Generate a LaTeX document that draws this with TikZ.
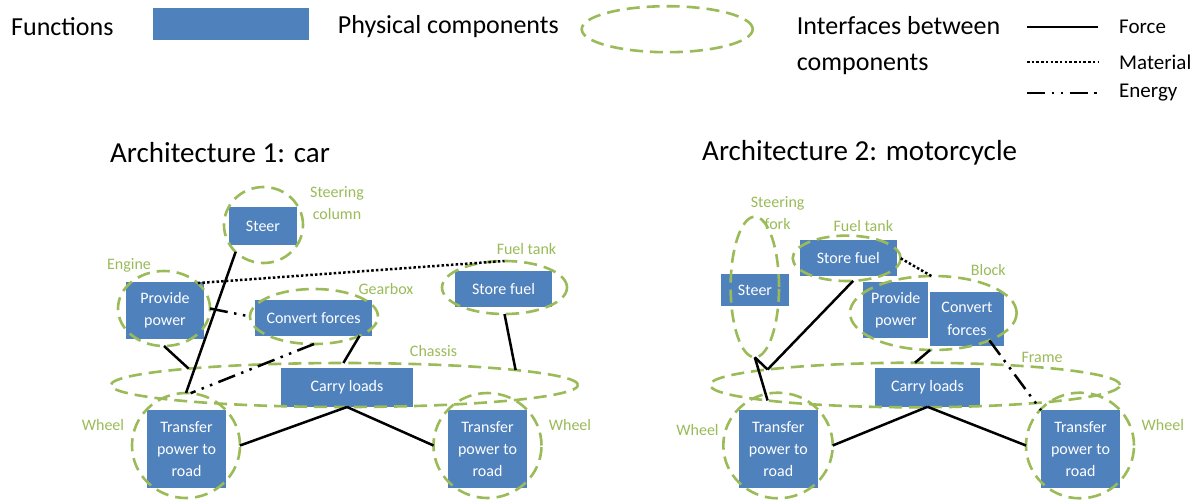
\documentclass[tikz,border=0pt]{standalone}
\usepackage{fontspec}
\setmainfont{Carlito}
\usetikzlibrary{shapes.geometric,calc}
\definecolor{fblue}{HTML}{4F81BD}
\definecolor{pgreen}{HTML}{9BBB59}
\newcommand{\mybf}{\fontsize{16}{22.3}\selectfont}
\newcommand{\mylf}{\fontsize{16}{22}\selectfont}
\newcommand{\mylegf}{\fontsize{26}{36}\selectfont}
\newcommand{\mylegs}{\fontsize{21}{25}\selectfont}
\newcommand{\mytitf}{\fontsize{29}{35}\selectfont}
\begin{document}
\begin{tikzpicture}[x=1pt,y=-1pt,
  func/.style={fill=fblue, draw=none, inner sep=0pt, outer sep=0pt, text=white, font=\mybf, align=center},
  comp/.style={ellipse, draw=pgreen, line width=2.6pt, dash pattern=on 13pt off 7pt, inner sep=0pt, outer sep=0pt},
  clabel/.style={text=pgreen, font=\mylf, align=center, inner sep=0pt},
  legtext/.style={anchor=west, inner sep=0pt, align=left},
  force/.style={line width=2.5pt},
  material/.style={line width=2.5pt, dash pattern=on 2.5pt off 2.2pt},
  energy/.style={line width=2.5pt, dash pattern=on 18pt off 6.5pt on 2.5pt off 6.5pt on 2.5pt off 6.5pt},
]
\fill[white] (0,0) rectangle (1198,499);
\useasboundingbox (0,0) rectangle (1198,499);

% ---------- legend ----------
\node[legtext, font=\mylegf] (lgfun) at (11,27) {Functions};
\node[func, minimum width=156, minimum height=32] (lgbox) at (231,24) {};
\node[legtext, font=\mylegf] (lgphy) at (337.7,27) {Physical components};
\node[comp, minimum width=171, minimum height=46] (lgell) at (667.2,29.2) {};
\node[legtext, font=\mylegf] (lgint) at (796.7,45.3) {Interfaces between\\components};
\coordinate (lgF1) at (1027,27); \coordinate (lgF2) at (1098,27);
\coordinate (lgM1) at (1027,62); \coordinate (lgM2) at (1098,62);
\coordinate (lgE1) at (1027,93); \coordinate (lgE2) at (1098,93);
\draw[force] (lgF1) -- (lgF2);
\draw[material] (lgM1) -- (lgM2);
\draw[energy] (lgE1) -- (lgE2);
\node[legtext, font=\mylegs] (lgFt) at (1119,27) {Force};
\node[legtext, font=\mylegs] (lgMt) at (1119,62) {Material};
\node[legtext, font=\mylegs] (lgEt) at (1119,93) {Energy};

% ---------- titles ----------
\node[legtext, font=\mytitf] (t1) at (110,153) {Architecture 1: car};
\node[legtext, font=\mytitf] (t2) at (702,153) {Architecture 2: motorcycle};

% ---------- architecture 1 ----------
\node[func, minimum width=68, minimum height=38] (a1st) at (263,226) {Steer};
\node[func, minimum width=78, minimum height=57] (a1pp) at (165,310.5) {Provide\\power};
\node[func, minimum width=117, minimum height=36] (a1cf) at (313.5,318) {Convert forces};
\node[func, minimum width=97, minimum height=36] (a1sf) at (503.5,289) {Store fuel};
\node[func, minimum width=132, minimum height=39] (a1cl) at (347,387.5) {Carry loads};
\node[func, minimum width=79, minimum height=78] (a1tl) at (186.5,449) {Transfer\\power to\\road};
\node[func, minimum width=79, minimum height=78] (a1tr) at (487.5,449) {Transfer\\power to\\road};

\node[comp, minimum width=79, minimum height=76] (a1stE) at (263.5,225) {};
\node[comp, minimum width=92, minimum height=75] (a1enE) at (164,308.5) {};
\node[comp, minimum width=128, minimum height=55] (a1gbE) at (314,316.5) {};
\node[comp, minimum width=125, minimum height=53] (a1ftE) at (504.5,287.5) {};
\node[comp, minimum width=467, minimum height=44] (a1chE) at (344.5,385) {};
\node[comp, minimum width=108, minimum height=105] (a1wlE) at (186,445.5) {};
\node[comp, minimum width=108, minimum height=105] (a1wrE) at (487.5,445.5) {};

\node[clabel] (a1stL) at (337,203) {Steering\\column};
\node[clabel] (a1enL) at (129,265) {Engine};
\node[clabel] (a1gbL) at (386,289) {Gearbox};
\node[clabel] (a1ftL) at (526.5,249) {Fuel tank};
\node[clabel] (a1chL) at (433.5,351) {Chassis};
\node[clabel] (a1wlL) at (103,425) {Wheel};
\node[clabel] (a1wrL) at (570,425) {Wheel};

\draw[force] (a1stE.224) -- (a1wlE.90);
\draw[material] (a1enE.37) -- (a1ftE.90);
\draw[energy] (a1enE.0) -- (a1gbE.180);
\draw[force] (a1enE.270) -- (a1chE.174.6);
\draw[energy] (a1gbE.270) -- (a1wlE.85);
\draw[force] (a1gbE.337) -- (a1chE.93);
\draw[force] (a1ftE.270) -- (a1chE.5.5);
\draw[force] (a1cl.south) -- (a1wlE.0);
\draw[force] (a1cl.south) -- (a1wrE.180);

% ---------- architecture 2 ----------
\node[func, minimum width=68, minimum height=32] (a2st) at (755,290) {Steer};
\node[func, minimum width=97, minimum height=36] (a2sf) at (848.3,258) {Store fuel};
\node[func, minimum width=65, minimum height=56] (a2pp) at (895.8,310.2) {Provide\\power};
\node[func, minimum width=74, minimum height=53.4] (a2cf) at (967,319) {Convert\\forces};
\node[func, minimum width=105, minimum height=39] (a2cl) at (927.5,387.3) {Carry loads};
\node[func, minimum width=79, minimum height=78] (a2tl) at (778.3,449.2) {Transfer\\power to\\road};
\node[func, minimum width=79, minimum height=78] (a2tr) at (1080.5,449.2) {Transfer\\power to\\road};

\node[comp, minimum width=48.4, minimum height=140.6] (a2sfE) at (754.8,287) {};
\node[comp, minimum width=108, minimum height=45.4] (a2ftE) at (846.7,258.3) {};
\node[comp, minimum width=166.6, minimum height=74] (a2blE) at (933.3,313) {};
\node[comp, minimum width=410, minimum height=44.6] (a2frE) at (915,385) {};
\node[comp, minimum width=109.4, minimum height=105.6] (a2wlE) at (778,445.5) {};
\node[comp, minimum width=108, minimum height=105.6] (a2wrE) at (1080,445.5) {};

\node[clabel] (a2sfL) at (777.6,213) {Steering\\fork};
\node[clabel] (a2ftL) at (863.3,226) {Fuel tank};
\node[clabel] (a2blL) at (988.3,270) {Block};
\node[clabel] (a2frL) at (1042,357.3) {Frame};
\node[clabel] (a2wlL) at (697.5,430) {Wheel};
\node[clabel] (a2wrL) at (1162.8,425) {Wheel};

\draw[force] (a2ftE.286) -- (a2frE.174);
\draw[force] (a2sfE.270) -- (a2frE.174);
\draw[force] (a2sfE.270) -- (a2frE.186);
\draw[material] (a2ftE.0) -- (a2blE.93);
\draw[force] (a2blE.265) -- (a2frE.90);
\draw[energy] (a2blE.334) -- (a2tr.north west);
\draw[force] (a2cl.south) -- (a2wlE.0);
\draw[force] (a2cl.south) -- (a2wrE.180);
\end{tikzpicture}
\end{document}
